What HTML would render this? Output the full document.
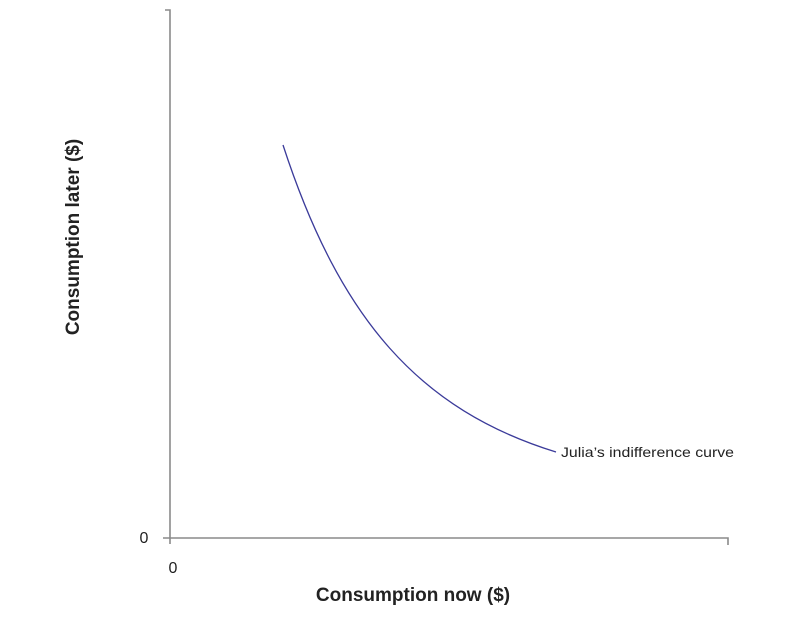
<!DOCTYPE html>
<html><head><style>
body{margin:0;background:#fff;}
svg{display:block;font-family:"Liberation Sans",sans-serif;}
</style></head><body>
<svg width="810" height="619" viewBox="0 0 810 619">
<g stroke="#8a8a8a" stroke-width="1.6" fill="none">
<path d="M165,10 H170 V538"/>
<path d="M163,538 H728 V545"/>
<path d="M170,538 V544"/>
</g>
<path d="M283,145 C340,320 420,410 556,452" stroke="#3b3b9a" stroke-width="1.3" fill="none"/>
<text x="561" y="457" font-size="14" fill="#222" textLength="173" lengthAdjust="spacingAndGlyphs">Julia’s indifference curve</text>
<text x="144" y="543" font-size="16" fill="#222" text-anchor="middle">0</text>
<text x="173" y="573" font-size="16" fill="#222" text-anchor="middle">0</text>
<text x="413" y="601" font-size="19" font-weight="bold" fill="#222" text-anchor="middle">Consumption now ($)</text>
<text transform="translate(79,237) rotate(-90)" font-size="19" font-weight="bold" fill="#222" text-anchor="middle">Consumption later ($)</text>
</svg>
</body></html>
